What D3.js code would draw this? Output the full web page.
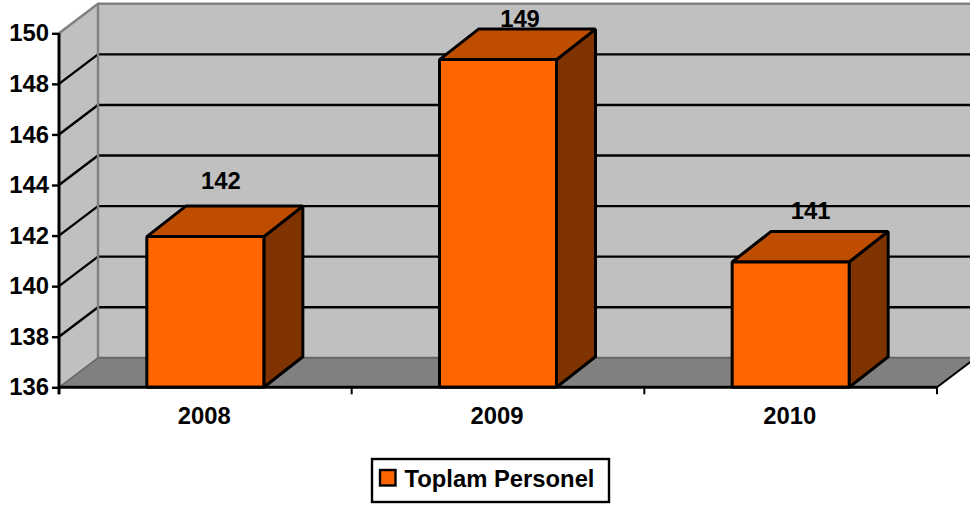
<!DOCTYPE html>
<html><head><meta charset="utf-8">
<script src="https://cdn.jsdelivr.net/npm/d3@7/dist/d3.min.js"></script>
<style>html,body{margin:0;padding:0;background:#fff;overflow:hidden}svg{display:block}
text{font-family:"Liberation Sans",Arial,sans-serif;font-weight:bold;fill:#000}</style>
</head><body><svg id="c" width="970" height="506"></svg>
<script>
const categories = ["2008","2009","2010"];
const values = [141.96, 148.96, 140.96];
const valueLabels = ["142","149","141"];
const yTicks = [136,138,140,142,144,146,148,150];
const seriesName = "Toplam Personel";

const W=970,H=506;
const dx=39, dy=-29.5, bdy=-30.5;
const svg=d3.select("#c");
const x=d3.scaleBand().domain(categories).range([59,937]);
const y=d3.scaleLinear().domain([136,150]).range([387.3,33.3]);
const barW=117;
const fs=23.8;
const K="#000", G="#808080";
const g=svg.append("g");
const poly=(pts,fill,stroke,sw)=>g.append("polygon").attr("points",pts.map(p=>p.join(",")).join(" ")).attr("fill",fill).attr("stroke",stroke||"none").attr("stroke-width",sw||0).attr("stroke-linejoin","bevel");
const x0=x.range()[0],x1=x.range()[1],yb=y(136),yt=y(150);
// walls
poly([[x0+dx,yt+dy],[x1+dx,yt+dy],[x1+dx,yb+dy],[x0+dx,yb+dy]],"#c0c0c0");
poly([[x0,yt],[x0+dx,yt+dy],[x0+dx,yb+dy],[x0,yb]],"#c0c0c0");
// floor
poly([[x0,yb],[x0+dx,yb+dy],[x1+dx,yb+dy],[x1,yb]],"#808080");
// gridlines
yTicks.filter(t=>t>136&&t<150).forEach(t=>{
  g.append("polyline").attr("fill","none").attr("stroke",K).attr("stroke-width",2.4)
   .attr("points",`${x0},${y(t)} ${x0+dx},${y(t)+dy} ${x1+dx},${y(t)+dy}`);
});
// wall borders
g.append("polyline").attr("fill","none").attr("stroke",G).attr("stroke-width",2.4)
 .attr("points",`${x0},${yt} ${x0+dx},${yt+dy} ${x1+dx},${yt+dy}`);
g.append("line").attr("x1",x0+dx).attr("x2",x0+dx).attr("y1",yt+dy).attr("y2",yb+dy).attr("stroke",G).attr("stroke-width",2.4);
g.append("line").attr("x1",x0+dx).attr("x2",x1+dx).attr("y1",yb+dy).attr("y2",yb+dy).attr("stroke","#666").attr("stroke-width",2);
g.append("line").attr("x1",x0).attr("x2",x0+dx).attr("y1",yb).attr("y2",yb+dy).attr("stroke","#666").attr("stroke-width",1.5);
g.append("line").attr("x1",x1).attr("x2",x1+dx).attr("y1",yb).attr("y2",yb+dy).attr("stroke",K).attr("stroke-width",2);
// bars
const labelOff=[[15.5,-17],[22,-2.5],[20,-12]];
categories.forEach((c,i)=>{
  const cx=x(c)+x.bandwidth()/2, l=cx-barW/2, r=cx+barW/2, t=y(values[i]);
  poly([[r,t],[r+dx,t+bdy],[r+dx,yb+bdy],[r,yb]],"#7f3300",K,3);
  poly([[l,t],[l+dx,t+bdy],[r+dx,t+bdy],[r,t]],"#bf4d00",K,3);
  poly([[l,t],[r,t],[r,yb],[l,yb]],"#ff6600",K,3);
  g.append("text").attr("x",cx+labelOff[i][0]).attr("y",t+bdy+labelOff[i][1]).attr("text-anchor","middle").attr("font-size",fs).text(valueLabels[i]);
});
// axes
const ag=svg.append("g").attr("transform","translate(59,0)");
ag.call(d3.axisLeft(y).tickValues(yTicks).tickSize(7).tickPadding(3).tickFormat(d3.format("d")));
ag.select(".domain").remove();
ag.selectAll(".tick line").attr("stroke",K).attr("stroke-width",2.4);
ag.selectAll(".tick text").attr("font-size",fs).style("font-family",'"Liberation Sans"').attr("fill","#000");
svg.append("line").attr("x1",x0).attr("x2",x0).attr("y1",yt).attr("y2",yb+7).attr("stroke",K).attr("stroke-width",3);
svg.append("line").attr("x1",x0).attr("x2",x1).attr("y1",yb).attr("y2",yb).attr("stroke",K).attr("stroke-width",3);
[...categories.map(c=>x(c)),x1].forEach(v=>svg.append("line").attr("x1",v).attr("x2",v).attr("y1",yb).attr("y2",yb+7).attr("stroke",K).attr("stroke-width",2));
categories.forEach(c=>svg.append("text").attr("x",x(c)+x.bandwidth()/2-1).attr("y",424).attr("text-anchor","middle").attr("font-size",fs).text(c));
// legend
svg.append("rect").attr("x",372).attr("y",459).attr("width",237).attr("height",43).attr("fill","#fff").attr("stroke",K).attr("stroke-width",2.4);
svg.append("rect").attr("x",380).attr("y",470).attr("width",15.5).attr("height",15.5).attr("fill","#ff6600").attr("stroke",K).attr("stroke-width",2.4);
svg.append("text").attr("x",404.5).attr("y",487).attr("font-size",fs).text(seriesName);
</script></body></html>
